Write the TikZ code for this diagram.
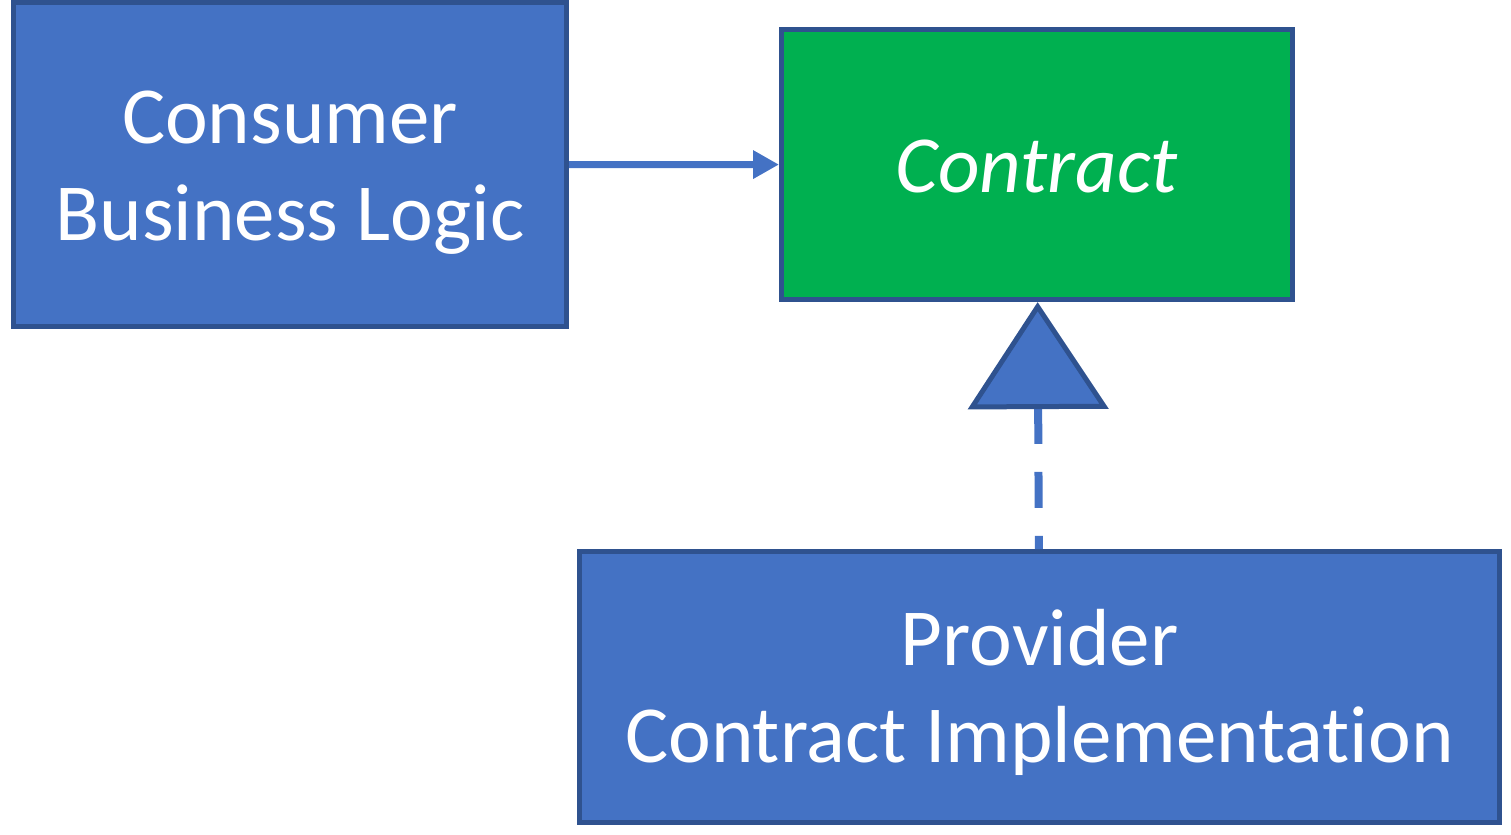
\documentclass[tikz,border=0pt]{standalone}
\usepackage{fontspec}
\setmainfont[Ligatures={NoCommon}]{Carlito}
\usetikzlibrary{arrows.meta}
\definecolor{boxblue}{HTML}{4472C4}
\definecolor{edgeblue}{HTML}{2F528F}
\definecolor{contractgreen}{HTML}{00B050}
\tikzset{
  box/.style={draw=edgeblue, line width=2.5pt, fill=boxblue, text=white, align=center,
    font=\fontsize{40.5}{48.5}\selectfont, inner sep=0pt, text height=83.5pt, text depth=8pt},
  contractbox/.style={box, fill=contractgreen, font=\fontsize{40.5}{48.5}\selectfont\itshape,
    text height=35pt, text depth=7.5pt},
  uses/.style={draw=boxblue, line width=3.5pt, -{Triangle[length=13pt,width=13.5pt]}},
  realizes/.style={draw=boxblue, line width=4pt, dash pattern=on 18pt off 14pt,
    {Triangle[length=53.5pt,width=70pt,open,fill=boxblue,color=edgeblue,line width=2.5pt]}-}
}
\begin{document}
\begin{tikzpicture}[x=0.5pt,y=-0.5pt]
  \useasboundingbox (0,0) rectangle (1511,835);
  \node[box, minimum width=276.5pt, minimum height=162pt] (consumer) at (290,164.5) {Consumer\\Business Logic};
  \node[contractbox, minimum width=255.5pt, minimum height=135pt] (contract) at (1037,164.6) {Contract};
  \node[box, minimum width=460pt, minimum height=135.5pt] (provider) at (1039.5,687) {Provider\\Contract Implementation};
  \draw[uses] (consumer) -- (contract);
  \draw[realizes] (contract) -- (provider);
\end{tikzpicture}
\end{document}
